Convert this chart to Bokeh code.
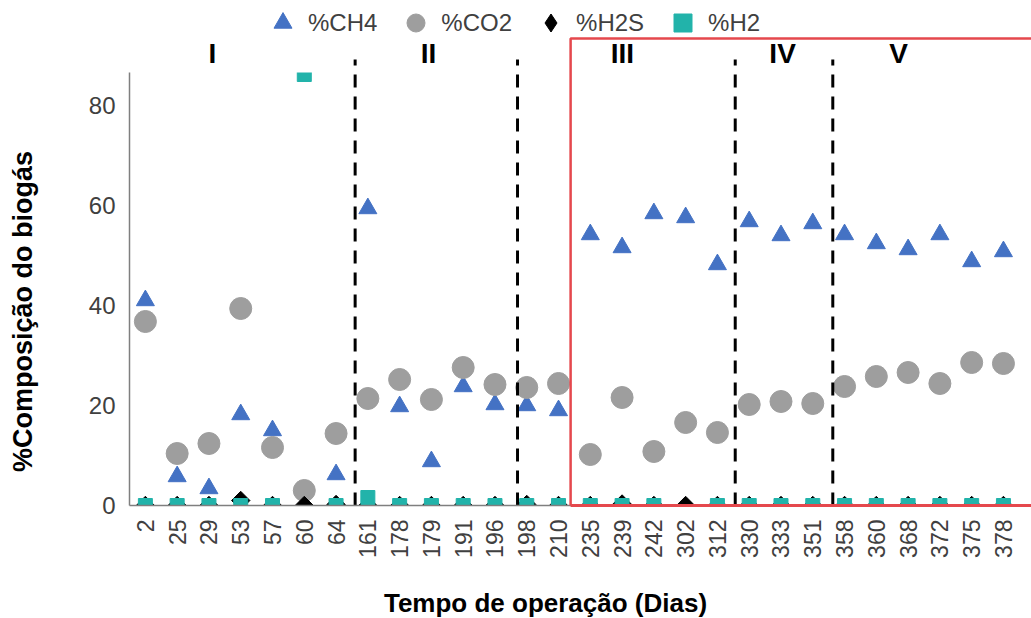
import math
from bokeh.plotting import figure
from bokeh.layouts import row, column
from bokeh.models import Range1d, FixedTicker, Legend, LegendItem, ColumnDataSource
from bokeh.core.properties import value
from bokeh.embed import file_html
from bokeh.resources import INLINE

nan = float("nan")

# ---- data ----
days = ["2", "25", "29", "53", "57", "60", "64", "161", "178", "179", "191", "196", "198", "210",
        "235", "239", "242", "302", "312", "330", "333", "351", "358", "360", "368", "372", "375", "378"]
ch4 = [41.0, 5.8, 3.4, 18.2, 15.0, nan, 6.2, 59.4, 19.8, 8.8, 23.8, 20.2, 20.0, 19.0,
       54.2, 51.6, 58.4, 57.6, 48.2, 56.8, 54.0, 56.4, 54.2, 52.4, 51.2, 54.2, 48.8, 50.8]
co2 = [36.8, 10.4, 12.4, 39.4, 11.6, 3.0, 14.4, 21.4, 25.2, 21.2, 27.6, 24.2, 23.6, 24.4,
       10.2, 21.6, 10.8, 16.6, 14.6, 20.2, 20.8, 20.4, 23.8, 25.8, 26.6, 24.4, 28.6, 28.4]
h2s = [0.0, 0.0, 0.0, 1.0, 0.0, 0.0, 0.2, 0.0, 0.0, 0.0, 0.0, 0.0, 0.2, 0.0,
       0.0, 0.3, 0.0, 0.0, 0.0, 0.0, 0.0, 0.0, 0.0, 0.0, 0.0, 0.0, 0.0, 0.0]
h2 = [0.0, 0.0, 0.0, 0.0, 0.0, 86.2, 0.0, 1.6, 0.0, 0.0, 0.0, 0.0, 0.0, 0.0,
      0.0, 0.0, 0.0, nan, 0.0, 0.0, 0.0, 0.0, 0.0, 0.0, 0.0, 0.0, 0.0, 0.0]
y_ticks = [0, 20, 40, 60, 80]
phases = ["I", "II", "III", "IV", "V"]
series_names = ["%CH4", "%CO2", "%H2S", "%H2"]
x_title = "Tempo de operação (Dias)"
y_title = "%Composição do biogás"

# ---- layout constants ----
W, H = 1031, 618
LEFT_STRIP = 45          # width of the strip holding the vertical title
FRAME_BOTTOM = 505       # pixel row of the value-axis zero line
MAIN_H = 560             # height of the main figure (frame 0..505 + tick labels)
X_END = -0.5 + 902 / 31.78
Y_AXIS_TOP = 86.6
phase_x = [2.11, 8.91, 15.01, 20.05, 23.70]
phase_y = 90.4
divider_x = [6.60, 11.71, 18.56, 21.63]
divider_top = 89.2
box_left, box_top = 13.38, 93.4
RED = "#E5484D"
FONT = "Liberation Sans"


def strip(width, height, x_range, y_range, **borders):
    f = figure(width=width, height=height, output_backend="svg", toolbar_location=None,
               x_range=x_range, y_range=y_range, x_axis_type=None, y_axis_type=None,
               min_border=0, **borders)
    f.outline_line_color = None
    f.grid.visible = False
    f.background_fill_color = "white"
    f.border_fill_color = "white"
    return f


xs = list(range(len(days)))
src = ColumnDataSource(dict(x=xs, ch4=ch4, co2=co2, h2s=h2s, h2=h2))

p = figure(width=W - LEFT_STRIP, height=MAIN_H, output_backend="svg", toolbar_location=None,
           x_range=Range1d(-0.5, X_END), y_range=Range1d(0, 101),
           min_border_left=129 - LEFT_STRIP, min_border_right=0, min_border_top=0,
           min_border_bottom=MAIN_H - FRAME_BOTTOM)
p.outline_line_color = None
p.grid.visible = False
p.background_fill_color = "white"
p.border_fill_color = "white"

r_ch4 = p.scatter("x", "ch4", source=src, marker="triangle", size=18, color="#4472C4")
r_co2 = p.scatter("x", "co2", source=src, marker="circle", size=22, color="#9E9E9E")
r_h2s = p.scatter("x", "h2s", source=src, marker="square", angle=math.pi / 4, size=13, color="black")
r_h2 = p.scatter("x", "h2", source=src, marker="square", size=14, color="#22B3AA")
# legend swatch for the diamond series (legend glyphs ignore marker angle); draws nothing in the plot
r_h2s_leg = p.scatter(x=[nan], y=[nan], marker="diamond", color="black")

# plot-area clipping above the value axis top (Excel clips markers to plot area)
p.quad(left=[-0.5], right=[X_END], bottom=[Y_AXIS_TOP], top=[88.3],
       fill_color="white", line_color=None)

# dashed phase dividers
p.segment(x0=divider_x, x1=divider_x, y0=[0] * 4, y1=[divider_top] * 4,
          line_color="black", line_width=3, line_dash="13 9")

# red box (left, top and bottom sides)
p.line(x=[box_left, box_left, X_END + 2], y=[0, box_top, box_top],
       line_color=RED, line_width=2.5, level="overlay")
p.line(x=[box_left, X_END + 2], y=[0, 0], line_color=RED, line_width=3, level="overlay")

# phase labels
p.text(x=phase_x, y=[phase_y] * 5, text=phases, text_font=value(FONT), text_font_style="bold",
       text_font_size="28px", text_align="center", text_baseline="middle", text_color="black")

# axes
xa = p.xaxis[0]
xa.ticker = FixedTicker(ticks=xs)
xa.major_label_overrides = {i: d for i, d in enumerate(days)}
xa.major_label_orientation = math.pi / 2
xa.major_label_text_font = FONT
xa.major_label_text_font_size = "23px"
xa.major_label_text_color = "#404040"
xa.major_label_standoff = 14
xa.major_tick_line_color = None
xa.minor_tick_line_color = None
xa.major_tick_out = 0
xa.major_tick_in = 0
xa.axis_line_color = "#7F7F7F"
xa.axis_line_width = 1.5
xa.bounds = (-0.5, 27.5)

ya = p.yaxis[0]
ya.ticker = FixedTicker(ticks=y_ticks)
ya.major_label_text_font = FONT
ya.major_label_text_font_size = "24px"
ya.major_label_text_color = "#404040"
ya.major_label_standoff = 14
ya.major_tick_line_color = None
ya.minor_tick_line_color = None
ya.major_tick_out = 0
ya.major_tick_in = 0
ya.axis_line_color = "#7F7F7F"
ya.axis_line_width = 1.5
ya.bounds = (0, Y_AXIS_TOP)

legend = Legend(items=[LegendItem(label=n, renderers=[r]) for n, r in
                       zip(series_names, [r_ch4, r_co2, r_h2s_leg, r_h2])],
                orientation="horizontal", location=(131, 460),
                glyph_width=45, glyph_height=45, label_standoff=3, spacing=16,
                padding=0, margin=0, border_line_color=None, background_fill_alpha=0,
                label_text_font=FONT, label_text_font_size="24px", label_text_color="#404040")
p.add_layout(legend)

# strips holding the axis titles (ranges in page pixels)
left = strip(LEFT_STRIP, MAIN_H, Range1d(0, LEFT_STRIP), Range1d(FRAME_BOTTOM, 0),
             min_border_bottom=MAIN_H - FRAME_BOTTOM)
left.text(x=[22], y=[311], text=[y_title], angle=math.pi / 2, text_font=value(FONT),
          text_font_style="bold", text_font_size="27px", text_align="center",
          text_baseline="middle", text_color="black")

bottom = strip(W, H - MAIN_H, Range1d(0, W), Range1d(H, MAIN_H))
bottom.text(x=[545], y=[602], text=[x_title], text_font=value(FONT),
            text_font_style="bold", text_font_size="26px", text_align="center",
            text_baseline="middle", text_color="black")

layout = column(row(left, p, spacing=0), bottom, spacing=0)
open("out.html", "w").write(file_html(layout, INLINE))
